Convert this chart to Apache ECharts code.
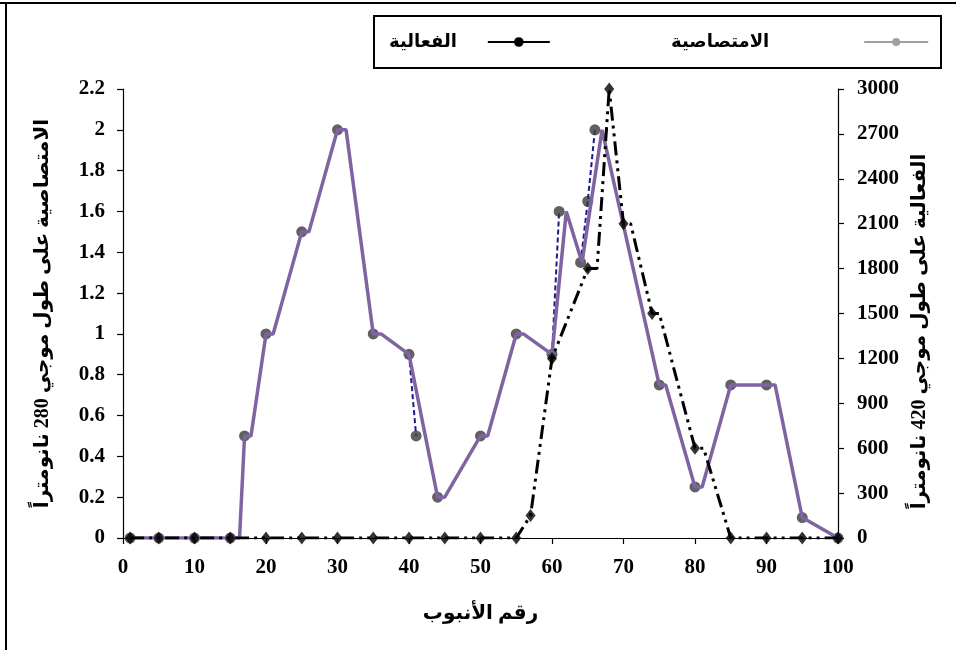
<!DOCTYPE html>
<html>
<head>
<meta charset="utf-8">
<script src="https://cdn.jsdelivr.net/npm/echarts@6/dist/echarts.min.js"></script>
<style>html,body{margin:0;padding:0;background:#fff;}#c{width:956px;height:650px;}</style>
</head>
<body>
<div id="c"></div>
<script>
// Absorbance (280 nm) points
const tubeNo = [1,5,10,15,17,20,25,30,35,40,41,44,50,55,60,61,64,65,66,75,80,85,90,95,100];
const absorbance = [0,0,0,0,0.5,1,1.5,2,1,0.9,0.5,0.2,0.5,1,0.9,1.6,1.35,1.65,2,0.75,0.25,0.75,0.75,0.1,0];
// Blue dashed connector segments visible between close points (null = break)
const dashX = [40,41,null,60,61,null,64,65,66];
const dashY = [0.9,0.5,null,0.9,1.6,null,1.35,1.65,2];
// Purple trace line as drawn in the picture
const traceX = [1,16.3,17,17.9,20,21,25,26,30,31.2,35,36.1,40,44,45,50,51,55,56,60,62,64.2,67,75,75.9,80,81,85,91.2,95,100];
const traceY = [0,0,0.5,0.5,1,1,1.5,1.5,2,2,1,1,0.9,0.2,0.2,0.5,0.5,1,1,0.9,1.6,1.35,2,0.75,0.75,0.25,0.25,0.75,0.75,0.1,0];
// Activity (420 nm) points
const actTube = [1,5,10,15,20,25,30,35,40,45,50,55,57,60,65,68,70,74,80,85,90,95,100];
const activity = [0,0,0,0,0,0,0,0,0,0,0,0,150,1200,1800,3000,2100,1500,600,0,0,0,0];
// Activity line path as drawn
const actLineX = [1,5,10,15,20,25,30,35,40,45,50,55,57,60,65,66.3,68,70,71,74,75,80,81.2,85,90,95,100];
const actLineY = [0,0,0,0,0,0,0,0,0,0,0,0,150,1200,1800,1800,3000,2100,2100,1500,1500,600,600,0,0,0,0];

const leftTicks = {min:0, max:2.2, interval:0.2};
const rightTicks = {min:0, max:3000, interval:300};
const xTicks = {min:0, max:100, interval:10};

const pair = (xs, ys) => xs.map((x,i)=> x === null ? [null, null] : [x, ys[i]]);
const FONT = "'Liberation Serif', 'DejaVu Sans', serif";
const labelStyle = {color:'#000', fontFamily:FONT, fontWeight:'bold', fontSize:21};

const chart = echarts.init(document.getElementById('c'), null, {renderer:'canvas'});
chart.setOption({
  animation:false,
  backgroundColor:'#fff',
  grid:{left:123, right:118, top:89, bottom:112, containLabel:false},
  graphic:[
    {type:'line', shape:{x1:0,y1:3,x2:956,y2:3}, style:{stroke:'#000', lineWidth:2}},
    {type:'line', shape:{x1:6,y1:3,x2:6,y2:650}, style:{stroke:'#000', lineWidth:2}},
    {type:'rect', shape:{x:374,y:16,width:567,height:52}, style:{fill:'none', stroke:'#000', lineWidth:2}}
  ],
  legend:[
    {data:['الفعالية'], left:384, top:28, align:'right', itemWidth:62, itemHeight:12,
     textStyle:{color:'#000', fontFamily:FONT, fontWeight:'bold', fontSize:18, padding:[0,26,14,0]}},
    {data:['الامتصاصية'], left:666, top:28, align:'right', itemWidth:64, itemHeight:10,
     textStyle:{color:'#000', fontFamily:FONT, fontWeight:'bold', fontSize:18, padding:[0,90,14,0]}}
  ],
  xAxis:{type:'value', min:xTicks.min, max:xTicks.max, interval:xTicks.interval,
    name:'رقم الأنبوب', nameLocation:'middle', nameGap:66,
    nameTextStyle:{color:'#000', fontFamily:FONT, fontWeight:'bold', fontSize:20},
    axisLine:{show:true, onZero:false, lineStyle:{color:'#000', width:1.2}},
    axisTick:{show:true, inside:false, length:6, lineStyle:{color:'#000', width:1.2}},
    axisLabel:Object.assign({margin:19}, labelStyle),
    splitLine:{show:false}},
  yAxis:[
    {type:'value', position:'left', min:leftTicks.min, max:leftTicks.max, interval:leftTicks.interval,
     name:'الامتصاصية على طول موجي 280 نانومتراً', nameLocation:'middle', nameRotate:90, nameGap:70,
     nameTextStyle:{color:'#000', fontFamily:FONT, fontWeight:'bold', fontSize:20},
     axisLine:{show:true, onZero:false, lineStyle:{color:'#000', width:1.2}},
     axisTick:{show:true, inside:false, length:6, lineStyle:{color:'#000', width:1.2}},
     axisLabel:Object.assign({margin:18}, labelStyle),
     splitLine:{show:false}},
    {type:'value', position:'right', min:rightTicks.min, max:rightTicks.max, interval:rightTicks.interval,
     name:'الفعالية على طول موجي 420 نانومتراً', nameLocation:'middle', nameRotate:90, nameGap:70,
     nameTextStyle:{color:'#000', fontFamily:FONT, fontWeight:'bold', fontSize:20, padding:[0,36,0,0]},
     axisLine:{show:true, onZero:false, lineStyle:{color:'#000', width:1.2}},
     axisTick:{show:true, inside:false, length:6, lineStyle:{color:'#000', width:1.2}},
     axisLabel:Object.assign({margin:19, formatter:(v)=>String(v)}, labelStyle),
     splitLine:{show:false}}
  ],
  series:[
    {name:'abs-dash', type:'line', yAxisIndex:0, data:pair(dashX, dashY), showSymbol:false, symbol:'none',
     connectNulls:false, lineStyle:{color:'#1a1a8c', width:2, type:[5,3]}, z:2, silent:true},
    {name:'abs-dots', type:'scatter', yAxisIndex:0, data:pair(tubeNo, absorbance), symbol:'circle', symbolSize:11,
     itemStyle:{color:'#3a3a3a'}, z:3, silent:true},
    {name:'abs-trace', type:'line', yAxisIndex:0, data:pair(traceX, traceY), showSymbol:false, symbol:'none',
     lineStyle:{color:'#8064A2', width:3.5}, z:4, silent:true},
    {name:'act-line', type:'line', yAxisIndex:1, data:pair(actLineX, actLineY), showSymbol:false, symbol:'none',
     lineStyle:{color:'#000', width:3, type:[14,5,3,5,3,5]}, z:5, silent:true},
    {name:'act-dots', type:'scatter', yAxisIndex:1, data:pair(actTube, activity), symbol:'diamond', symbolSize:[10,13],
     itemStyle:{color:'#000'}, z:6, silent:true},
    {name:'الفعالية', type:'line', data:[], symbol:'circle', symbolSize:10,
     itemStyle:{color:'#000'}, lineStyle:{color:'#000', width:2.5}},
    {name:'الامتصاصية', type:'line', data:[], symbol:'circle', symbolSize:8,
     itemStyle:{color:'#a0a0a0'}, lineStyle:{color:'#a0a0a0', width:2.5}}
  ]
});
</script>
</body>
</html>
